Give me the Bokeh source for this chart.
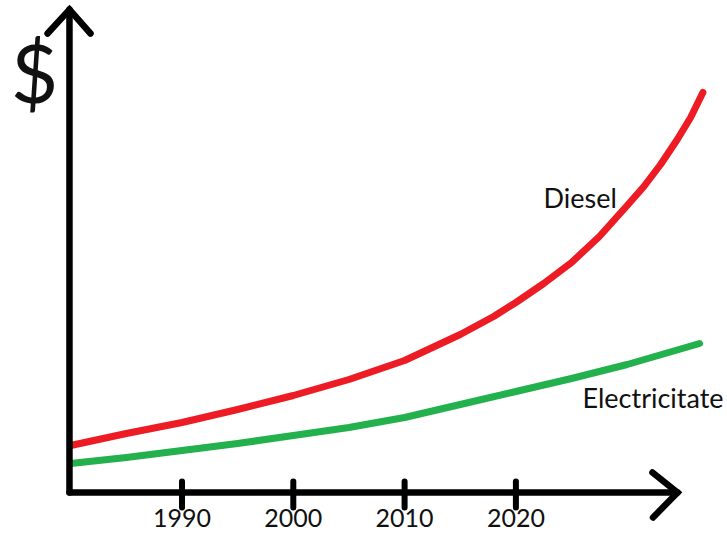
from bokeh.plotting import figure
from bokeh.models import Range1d, ColumnDataSource, Label
from bokeh.core.properties import value
from bokeh.embed import file_html
from bokeh.resources import INLINE

# ---- data (arbitrary $ units) ----
diesel_years = [1980, 1985, 1990, 1995, 2000, 2005, 2010, 2015, 2018, 2020, 2022.5, 2025,
                2027.5, 2030, 2031.5, 2033, 2034.5, 2035.7, 2036.8]
diesel_cost = [4.7, 5.9, 7.0, 8.3, 9.7, 11.3, 13.2, 15.8, 17.6, 19.0, 20.9, 23.0,
               25.6, 28.7, 30.6, 32.8, 35.3, 37.5, 40.0]

elec_years = [1980, 1985, 1990, 1995, 2000, 2005, 2010, 2015, 2020, 2025, 2030, 2036.5]
elec_cost = [2.9, 3.5, 4.2, 4.9, 5.7, 6.5, 7.5, 8.8, 10.1, 11.4, 12.8, 14.9]

tick_years = [1990, 2000, 2010, 2020]
tick_labels = ["1990", "2000", "2010", "2020"]

y_label = "$"
series_names = ["Diesel", "Electricitate"]

# ---- layout constants ----
FONT = "Lato"
PX_PER_YEAR = 11.13
X0 = 1990 - 181.5 / PX_PER_YEAR
X1 = 1990 + (727 - 181.5) / PX_PER_YEAR
Y0, Y1 = -4.1, 49.2
ORIGIN_X, ORIGIN_Y = 1979.89, 0.0
X_TIP = 2034.52
Y_TIP = 48.3

p = figure(width=727, height=533, output_backend="svg", toolbar_location=None,
           x_range=Range1d(X0, X1), y_range=Range1d(Y0, Y1),
           x_axis_type=None, y_axis_type=None, min_border=0)
p.outline_line_color = None
p.xgrid.visible = False
p.ygrid.visible = False
p.background_fill_color = "white"
p.border_fill_color = "white"

RED = "#ED1C24"
GREEN = "#22B14C"

p.line(diesel_years, diesel_cost, line_color=RED, line_width=7, line_cap="round", line_join="round")
p.line(elec_years, elec_cost, line_color=GREEN, line_width=7, line_cap="round", line_join="round")

# axes drawn as thick hand-made lines with arrows
AW = 6.5
p.segment(x0=[ORIGIN_X, ORIGIN_X], y0=[ORIGIN_Y, ORIGIN_Y], x1=[X_TIP, ORIGIN_X], y1=[ORIGIN_Y, Y_TIP],
          line_color="black", line_width=AW, line_cap="round")
# x arrow head
p.line([2032.27, X_TIP, 2032.32], [2.0, ORIGIN_Y, -2.5], line_color="black", line_width=AW,
       line_cap="round", line_join="miter")
# y arrow head
p.line([1977.92, ORIGIN_X, 1981.78], [45.9, Y_TIP, 45.9], line_color="black", line_width=AW,
       line_cap="round", line_join="miter")
# tick marks
p.segment(x0=tick_years, y0=[1.1] * len(tick_years), x1=tick_years, y1=[-1.5] * len(tick_years),
          line_color="black", line_width=6, line_cap="round")

# tick labels (annotations, so they are not clipped)
for yr, lab in zip(tick_years, tick_labels):
    p.add_layout(Label(x=yr, y=-2.55, text=lab, text_font=FONT, text_font_size="25px",
                       text_align="center", text_baseline="alphabetic", text_color="#111111"))

# $ label
p.add_layout(Label(x=1976.75, y=42.2, text=y_label, text_font=FONT, text_font_size="82px",
                   text_align="center", text_baseline="alphabetic", text_color="#111111"))

# series labels
p.add_layout(Label(x=2022.48, y=29.5, text=series_names[0], text_font=FONT, text_font_size="27px",
                   text_align="left", text_baseline="alphabetic", text_color="#111111"))
p.add_layout(Label(x=2025.98, y=9.5, text=series_names[1], text_font=FONT, text_font_size="27px",
                   text_align="left", text_baseline="alphabetic", text_color="#111111"))

open("out.html", "w").write(file_html(p, INLINE))
